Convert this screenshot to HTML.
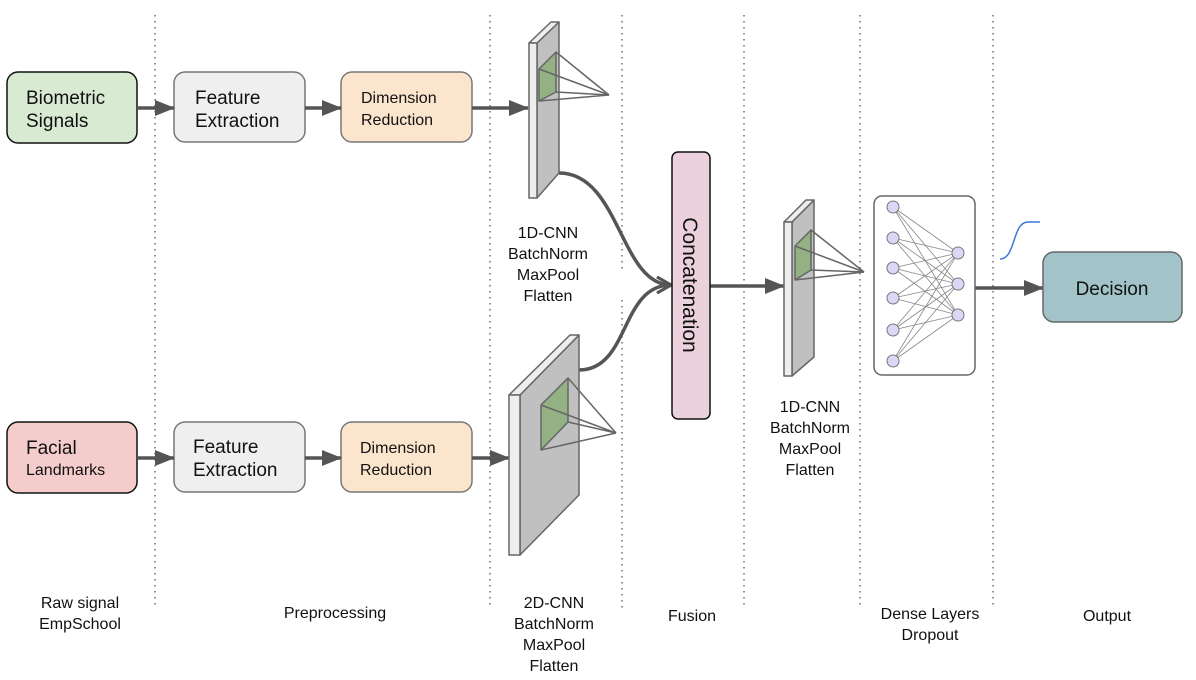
<!DOCTYPE html>
<html><head><meta charset="utf-8"><style>
html,body{margin:0;padding:0;background:#fff;}
svg{display:block;font-family:"Liberation Sans",Arial,sans-serif;}
</style></head><body>
<svg width="1196" height="680" viewBox="0 0 1196 680" xmlns="http://www.w3.org/2000/svg">
<defs>
<marker id="ah" markerWidth="10" markerHeight="10" refX="9" refY="5" orient="auto" markerUnits="userSpaceOnUse" viewBox="0 0 10 10">
<path d="M0,0 L10,5 L0,10 z" fill="#555"/></marker>
<marker id="ah2" markerWidth="20" markerHeight="16" refX="19" refY="8" orient="auto" markerUnits="userSpaceOnUse">
<path d="M0,0 L20,8 L0,16 z" fill="#555"/></marker>
<marker id="av" markerWidth="18" markerHeight="18" refX="16" refY="9" orient="auto" markerUnits="userSpaceOnUse">
<path d="M2,1 L16,9 L2,17" fill="none" stroke="#555" stroke-width="3"/></marker>
</defs>
<g stroke="#777" stroke-width="1.6" stroke-dasharray="1.5 4.5">
<line x1="155" y1="15" x2="155" y2="608"/>
<line x1="490" y1="15" x2="490" y2="608"/>
<line x1="622" y1="15" x2="622" y2="272"/>
<line x1="622" y1="300" x2="622" y2="608"/>
<line x1="744" y1="15" x2="744" y2="608"/>
<line x1="860" y1="15" x2="860" y2="608"/>
<line x1="993" y1="15" x2="993" y2="608"/>
</g>
<!-- boxes -->
<rect x="7" y="72" width="130" height="71" rx="11" fill="#d9ead3" stroke="#111" stroke-width="1.5"/>
<rect x="174" y="72" width="131" height="70" rx="11" fill="#efefef" stroke="#777" stroke-width="1.5"/>
<rect x="341" y="72" width="131" height="70" rx="11" fill="#fce5cd" stroke="#777" stroke-width="1.5"/>
<rect x="7" y="422" width="130" height="71" rx="11" fill="#f4cccc" stroke="#111" stroke-width="1.5"/>
<rect x="174" y="422" width="131" height="70" rx="11" fill="#efefef" stroke="#777" stroke-width="1.5"/>
<rect x="341" y="422" width="131" height="70" rx="11" fill="#fce5cd" stroke="#777" stroke-width="1.5"/>
<g fill="#111">
<text x="26" y="104" font-size="19">Biometric</text>
<text x="26" y="127" font-size="19">Signals</text>
<text x="195" y="104" font-size="19">Feature</text>
<text x="195" y="127" font-size="19">Extraction</text>
<text x="361" y="103" font-size="16">Dimension</text>
<text x="361" y="125" font-size="16">Reduction</text>
<text x="26" y="454" font-size="19">Facial</text>
<text x="26" y="475" font-size="16">Landmarks</text>
<text x="193" y="453" font-size="19">Feature</text>
<text x="193" y="476" font-size="19">Extraction</text>
<text x="360" y="453" font-size="16">Dimension</text>
<text x="360" y="475" font-size="16">Reduction</text>
</g>
<g stroke="#555" stroke-width="3.5" fill="none">
<line x1="137" y1="108" x2="174" y2="108" marker-end="url(#ah2)"/>
<line x1="305" y1="108" x2="341" y2="108" marker-end="url(#ah2)"/>
<line x1="472" y1="108" x2="528" y2="108" marker-end="url(#ah2)"/>
<line x1="137" y1="458" x2="174" y2="458" marker-end="url(#ah2)"/>
<line x1="305" y1="458" x2="341" y2="458" marker-end="url(#ah2)"/>
<line x1="472" y1="458" x2="509" y2="458" marker-end="url(#ah2)"/>
<line x1="710" y1="286" x2="784" y2="286" marker-end="url(#ah2)"/>
<line x1="975" y1="288" x2="1043" y2="288" marker-end="url(#ah2)"/>
<path d="M559,173 C620,173 620,285 671,285" marker-end="url(#av)"/>
<path d="M579,370 C630,370 620,285 671,285" marker-end="url(#av)"/>
</g>
<!-- top 1D-CNN -->
<g stroke="#666" stroke-width="1.5" stroke-linejoin="round">
<polygon points="537,43 559,22 559,173 537,198" fill="#c0c0c0"/>
<polygon points="529,43 551,22 559,22 537,43" fill="#eee"/>
<rect x="529" y="43" width="8" height="155" fill="#eee"/>
<polygon points="539,69 556,52 556,92 539,101" fill="#93b183"/>
<g fill="none"><line x1="556" y1="52" x2="609" y2="95"/><line x1="539" y1="69" x2="609" y2="95"/><line x1="556" y1="92" x2="609" y2="95"/><line x1="539" y1="101" x2="609" y2="95"/></g>
</g>
<!-- 2D-CNN -->
<g stroke="#666" stroke-width="1.5" stroke-linejoin="round">
<polygon points="520,395 579,335 579,495 520,555" fill="#c0c0c0"/>
<polygon points="509,395 570,335 579,335 520,395" fill="#eee"/>
<rect x="509" y="395" width="11" height="160" fill="#eee"/>
<polygon points="541,405 568,378 568,422 541,450" fill="#93b183"/>
<g fill="none"><line x1="568" y1="378" x2="616" y2="433"/><line x1="541" y1="405" x2="616" y2="433"/><line x1="568" y1="422" x2="616" y2="433"/><line x1="541" y1="450" x2="616" y2="433"/></g>
</g>
<!-- mid 1D-CNN -->
<g stroke="#666" stroke-width="1.5" stroke-linejoin="round">
<polygon points="792,222 814,200 814,357 792,376" fill="#c0c0c0"/>
<polygon points="784,222 806,200 814,200 792,222" fill="#eee"/>
<rect x="784" y="222" width="8" height="154" fill="#eee"/>
<polygon points="795,246 811,230 811,270 795,280" fill="#93b183"/>
<g fill="none"><line x1="811" y1="230" x2="864" y2="272"/><line x1="795" y1="246" x2="864" y2="272"/><line x1="811" y1="270" x2="864" y2="272"/><line x1="795" y1="280" x2="864" y2="272"/></g>
</g>
<!-- concat -->
<rect x="672" y="152" width="38" height="267" rx="6" fill="#ead1dc" stroke="#111" stroke-width="1.5"/>
<text transform="translate(683,285) rotate(90)" text-anchor="middle" font-size="21" fill="#111">Concatenation</text>
<!-- NN -->
<rect x="874" y="196" width="101" height="179" rx="8" fill="#fff" stroke="#666" stroke-width="1.5"/>
<g stroke="#888" stroke-width="0.8">
<g id="l1"><line x1="893" y1="207" x2="958" y2="253"/><line x1="893" y1="207" x2="958" y2="284"/><line x1="893" y1="207" x2="958" y2="315"/></g>
<g><line x1="893" y1="238" x2="958" y2="253"/><line x1="893" y1="238" x2="958" y2="284"/><line x1="893" y1="238" x2="958" y2="315"/></g>
<g><line x1="893" y1="268" x2="958" y2="253"/><line x1="893" y1="268" x2="958" y2="284"/><line x1="893" y1="268" x2="958" y2="315"/></g>
<g><line x1="893" y1="298" x2="958" y2="253"/><line x1="893" y1="298" x2="958" y2="284"/><line x1="893" y1="298" x2="958" y2="315"/></g>
<g><line x1="893" y1="330" x2="958" y2="253"/><line x1="893" y1="330" x2="958" y2="284"/><line x1="893" y1="330" x2="958" y2="315"/></g>
<g><line x1="893" y1="361" x2="958" y2="253"/><line x1="893" y1="361" x2="958" y2="284"/><line x1="893" y1="361" x2="958" y2="315"/></g>
</g>
<g fill="#dcd6f7" stroke="#777" stroke-width="1">
<circle cx="893" cy="207" r="6"/><circle cx="893" cy="238" r="6"/><circle cx="893" cy="268" r="6"/><circle cx="893" cy="298" r="6"/><circle cx="893" cy="330" r="6"/><circle cx="893" cy="361" r="6"/>
<circle cx="958" cy="253" r="6"/><circle cx="958" cy="284" r="6"/><circle cx="958" cy="315" r="6"/>
</g>
<path d="M1000,259 C1016,259 1012,222 1028,222 L1040,222" fill="none" stroke="#3c78d8" stroke-width="1.5"/>
<rect x="1043" y="252" width="139" height="70" rx="11" fill="#a2c4c9" stroke="#666" stroke-width="1.5"/>
<text x="1112" y="295" text-anchor="middle" font-size="19" fill="#111">Decision</text>
<!-- labels -->
<g font-size="16" fill="#111" text-anchor="middle">
<text x="80" y="608">Raw signal</text><text x="80" y="629">EmpSchool</text>
<text x="335" y="618">Preprocessing</text>
<text x="548" y="238">1D-CNN</text><text x="548" y="259">BatchNorm</text><text x="548" y="280">MaxPool</text><text x="548" y="301">Flatten</text>
<text x="554" y="608">2D-CNN</text><text x="554" y="629">BatchNorm</text><text x="554" y="650">MaxPool</text><text x="554" y="671">Flatten</text>
<text x="692" y="621">Fusion</text>
<text x="810" y="412">1D-CNN</text><text x="810" y="433">BatchNorm</text><text x="810" y="454">MaxPool</text><text x="810" y="475">Flatten</text>
<text x="930" y="619">Dense Layers</text><text x="930" y="640">Dropout</text>
<text x="1107" y="621">Output</text>
</g>
</svg>
</body></html>
